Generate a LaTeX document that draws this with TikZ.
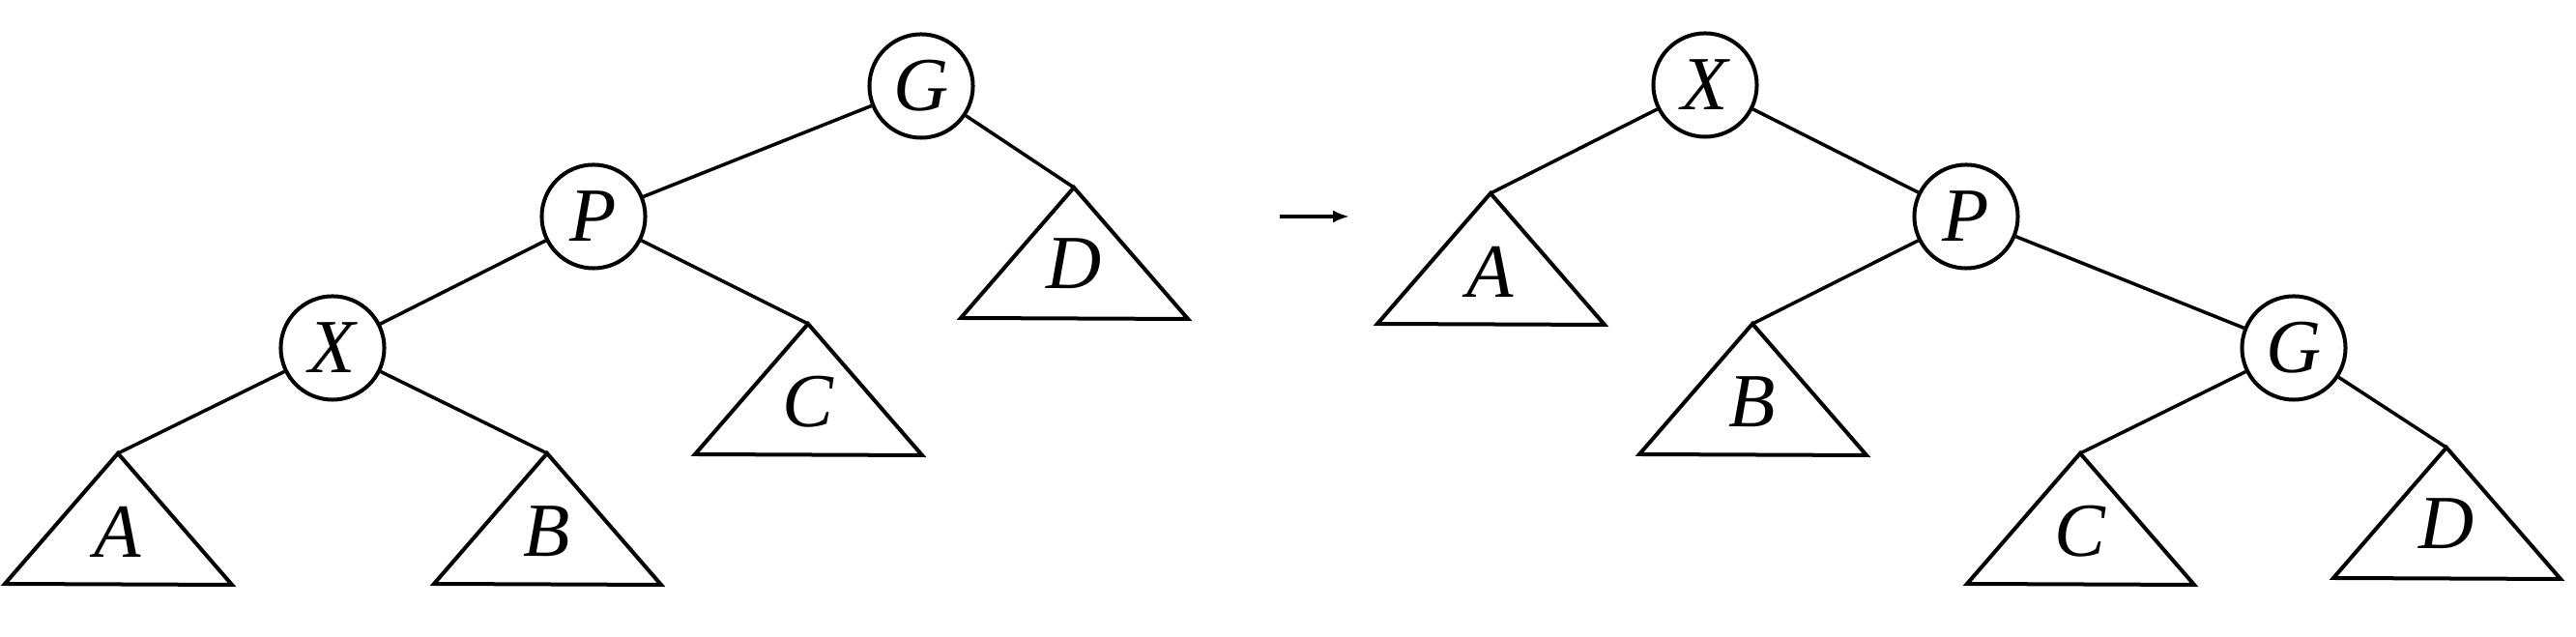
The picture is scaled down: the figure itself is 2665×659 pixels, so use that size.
\documentclass[tikz,border=0pt]{standalone}
\usepackage{fontspec}
\setmainfont{Liberation Serif}
\usetikzlibrary{arrows.meta}
\begin{document}
\begin{tikzpicture}[x=0.01cm,y=-0.01cm,
  every node/.style={font=\fontsize{22.5}{25}\selectfont\itshape},
  tnode/.style={circle,draw,line width=0.04cm,minimum size=1.07cm,inner sep=0pt},
  edge/.style={line width=0.035cm},
  tri/.style={line width=0.04cm,line join=miter},
  lab/.style={inner sep=0pt}]
\useasboundingbox (0,0) rectangle (2665,659);
% left tree
\node[tnode] (G1) at (953,89) {G};
\node[tnode] (P1) at (614,224) {P};
\node[tnode] (X1) at (344,360) {X};
\coordinate (A1) at (122,469);
\coordinate (B1) at (566,469);
\coordinate (C1) at (836,335);
\coordinate (D1) at (1111,194);
\draw[edge] (G1) -- (P1);
\draw[edge] (G1) -- (D1);
\draw[edge] (P1) -- (X1);
\draw[edge] (P1) -- (C1);
\draw[edge] (X1) -- (A1);
\draw[edge] (X1) -- (B1);
\foreach \t in {A1,B1,C1,D1}{
  \draw[tri] (\t) -- ++(-117,135) -- ++(235,1) -- cycle;
}
\node[lab] (lA1) at ([yshift=-0.81cm]A1) {A};
\node[lab] (lB1) at ([yshift=-0.81cm]B1) {B};
\node[lab] (lC1) at ([yshift=-0.81cm]C1) {C};
\node[lab] (lD1) at ([yshift=-0.79cm]D1) {D};
% arrow
\coordinate (ar1) at (1324,224);
\coordinate (ar2) at (1396,224);
\draw[line width=0.04cm,-{Latex[length=0.17cm,width=0.13cm]}] (ar1) -- (ar2);
% right tree
\node[tnode] (X2) at (1764,88) {X};
\node[tnode] (P2) at (2034,224) {P};
\node[tnode] (G2) at (2373,360) {G};
\coordinate (A2) at (1542,200);
\coordinate (B2) at (1813,335);
\coordinate (C2) at (2152,469);
\coordinate (D2) at (2531,463);
\draw[edge] (X2) -- (A2);
\draw[edge] (X2) -- (P2);
\draw[edge] (P2) -- (B2);
\draw[edge] (P2) -- (G2);
\draw[edge] (G2) -- (C2);
\draw[edge] (G2) -- (D2);
\foreach \t in {A2,B2,C2,D2}{
  \draw[tri] (\t) -- ++(-117,135) -- ++(235,1) -- cycle;
}
\node[lab] (lA2) at ([yshift=-0.81cm]A2) {A};
\node[lab] (lB2) at ([yshift=-0.81cm]B2) {B};
\node[lab] (lC2) at ([yshift=-0.81cm]C2) {C};
\node[lab] (lD2) at ([yshift=-0.79cm]D2) {D};
\end{tikzpicture}
\end{document}
